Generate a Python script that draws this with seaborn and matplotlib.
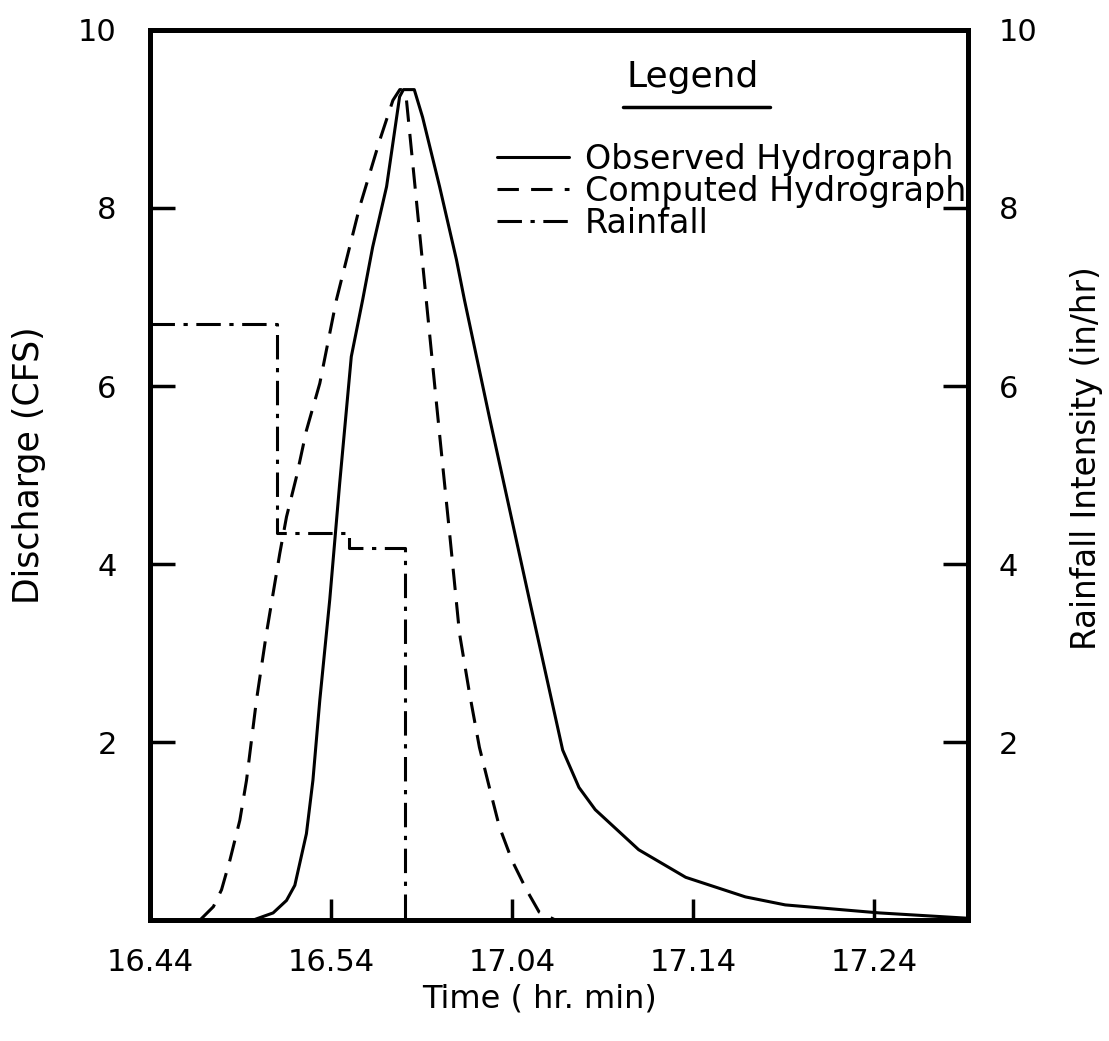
import matplotlib
matplotlib.use("Agg")
import matplotlib.pyplot as plt
import seaborn as sns
import pandas as pd

# ---- data (minutes after 16:44) ----
obs_t = [5.7, 6.8, 7.54, 8.0, 8.64, 9.0, 9.38, 9.93, 10.48, 11.12, 11.75, 12.3, 13.07,
         13.79, 14.0, 14.6, 15.06, 16.0, 16.93, 17.37, 18.75, 20.96, 22.8, 23.7, 24.6,
         27.0, 29.6, 32.9, 35.1, 40.3, 45.2]
obs_v = [0, 0.08, 0.22, 0.39, 0.97, 1.57, 2.47, 3.6, 4.91, 6.33, 6.97, 7.56, 8.24,
         9.25, 9.33, 9.33, 9.02, 8.24, 7.42, 6.97, 5.65, 3.6, 1.91, 1.49, 1.24,
         0.79, 0.48, 0.26, 0.17, 0.08, 0.02]

comp_t = [2.76, 3.5, 3.95, 4.41, 4.96, 5.33, 5.88, 6.43, 6.8, 7.17, 7.54, 8.09, 8.64,
          9.38, 10.3, 11.58, 12.69, 13.42, 13.8, 13.95, 14.17, 15.26, 15.81, 16.18,
          16.55, 17.1, 17.65, 18.2, 18.75, 19.3, 20.0, 20.8, 21.5, 22.4]
comp_v = [0, 0.15, 0.34, 0.67, 1.12, 1.57, 2.47, 3.22, 3.67, 4.12, 4.53, 4.98, 5.5,
          6.03, 6.97, 8.01, 8.76, 9.21, 9.33, 9.33, 9.21, 6.97, 5.84, 5.09,
          4.35, 3.22, 2.55, 1.94, 1.49, 1.05, 0.67, 0.34, 0.09, 0]

rain_t = [0, 7.0, 11.0, 14.07]
rain_v = [6.7, 4.35, 4.18, 0]

x_ticks = [0, 10, 20, 30, 40]
x_ticklabels = ["16.44", "16.54", "17.04", "17.14", "17.24"]
y_ticks = [2, 4, 6, 8, 10]
y_ticklabels = ["2", "4", "6", "8", "10"]

labels = ["Observed Hydrograph", "Computed Hydrograph", "Rainfall"]

obs_df = pd.DataFrame({"t": obs_t, "v": obs_v})
comp_df = pd.DataFrame({"t": comp_t, "v": comp_v})
rain_df = pd.DataFrame({"t": rain_t, "v": rain_v})

sns.set_theme(style="white")
plt.rcParams["font.family"] = ["DejaVu Sans"]
plt.rcParams["text.color"] = "black"

fig = plt.figure(figsize=(11.09, 10.41), dpi=100)
ax = fig.add_axes([0.1353, 0.1162, 0.8729 - 0.1353, 0.9712 - 0.1162])
ax2 = ax.twinx()

lw = 2.2
sns.lineplot(data=obs_df, x="t", y="v", ax=ax, color="black", lw=lw,
             estimator=None, sort=False, label=labels[0], legend=False)
sns.lineplot(data=comp_df, x="t", y="v", ax=ax, color="black", lw=lw,
             estimator=None, sort=False, label=labels[1], legend=False)
ax.lines[1].set_dashes([7, 4])
sns.lineplot(data=rain_df, x="t", y="v", ax=ax2, color="black", lw=lw,
             estimator=None, sort=False, drawstyle="steps-post",
             label=labels[2], legend=False)
ax2.lines[0].set_dashes([8, 2.8, 1.4, 2.8])

for a in (ax, ax2):
    a.set_xlim(0, 45.2)
    a.set_ylim(0, 10)
    for s in a.spines.values():
        s.set_linewidth(3.5)
        s.set_color("black")

ax.set_xticks(x_ticks)
ax.set_xticklabels(x_ticklabels)
ax.set_yticks(y_ticks)
ax.set_yticklabels(y_ticklabels)
ax2.set_yticks(y_ticks)
ax2.set_yticklabels(y_ticklabels)

ax.tick_params(axis="x", direction="in", length=15, width=2.5, pad=20,
               labelsize=22, colors="black", bottom=True)
ax.tick_params(axis="y", direction="in", length=18, width=2.5, pad=24,
               labelsize=22, colors="black", left=True)
ax2.tick_params(axis="y", direction="in", length=18, width=2.5, pad=22,
                labelsize=22, colors="black", right=True)

ax.set_xlabel("Time ( hr. min)", fontsize=23, color="black")
ax.set_ylabel("Discharge (CFS)", fontsize=25, color="black")
ax2.set_ylabel("Rainfall Intensity (in/hr)", fontsize=23.5, color="black")
ax.xaxis.set_label_coords(0.476, -0.071)
ax.yaxis.set_label_coords(-0.127, 0.511)
ax2.yaxis.set_label_coords(1.125, 0.519)

# legend
handles = [ax.lines[0], ax.lines[1], ax2.lines[0]]
leg = ax2.legend(handles, labels, loc="upper left", bbox_to_anchor=(0.424, 0.873),
                 frameon=False, fontsize=24, handlelength=2.15, handletextpad=0.5,
                 labelspacing=-0.03, borderpad=0, borderaxespad=0)
for t in leg.get_texts():
    t.set_color("black")
ax2.text(0.663, 0.947, "Legend", transform=ax2.transAxes, ha="center", va="center",
         fontsize=26, color="black")
ax2.plot([0.578, 0.758], [0.913, 0.913], transform=ax2.transAxes, color="black", lw=2.5)

fig.savefig("out.png", dpi=100, facecolor="white")
